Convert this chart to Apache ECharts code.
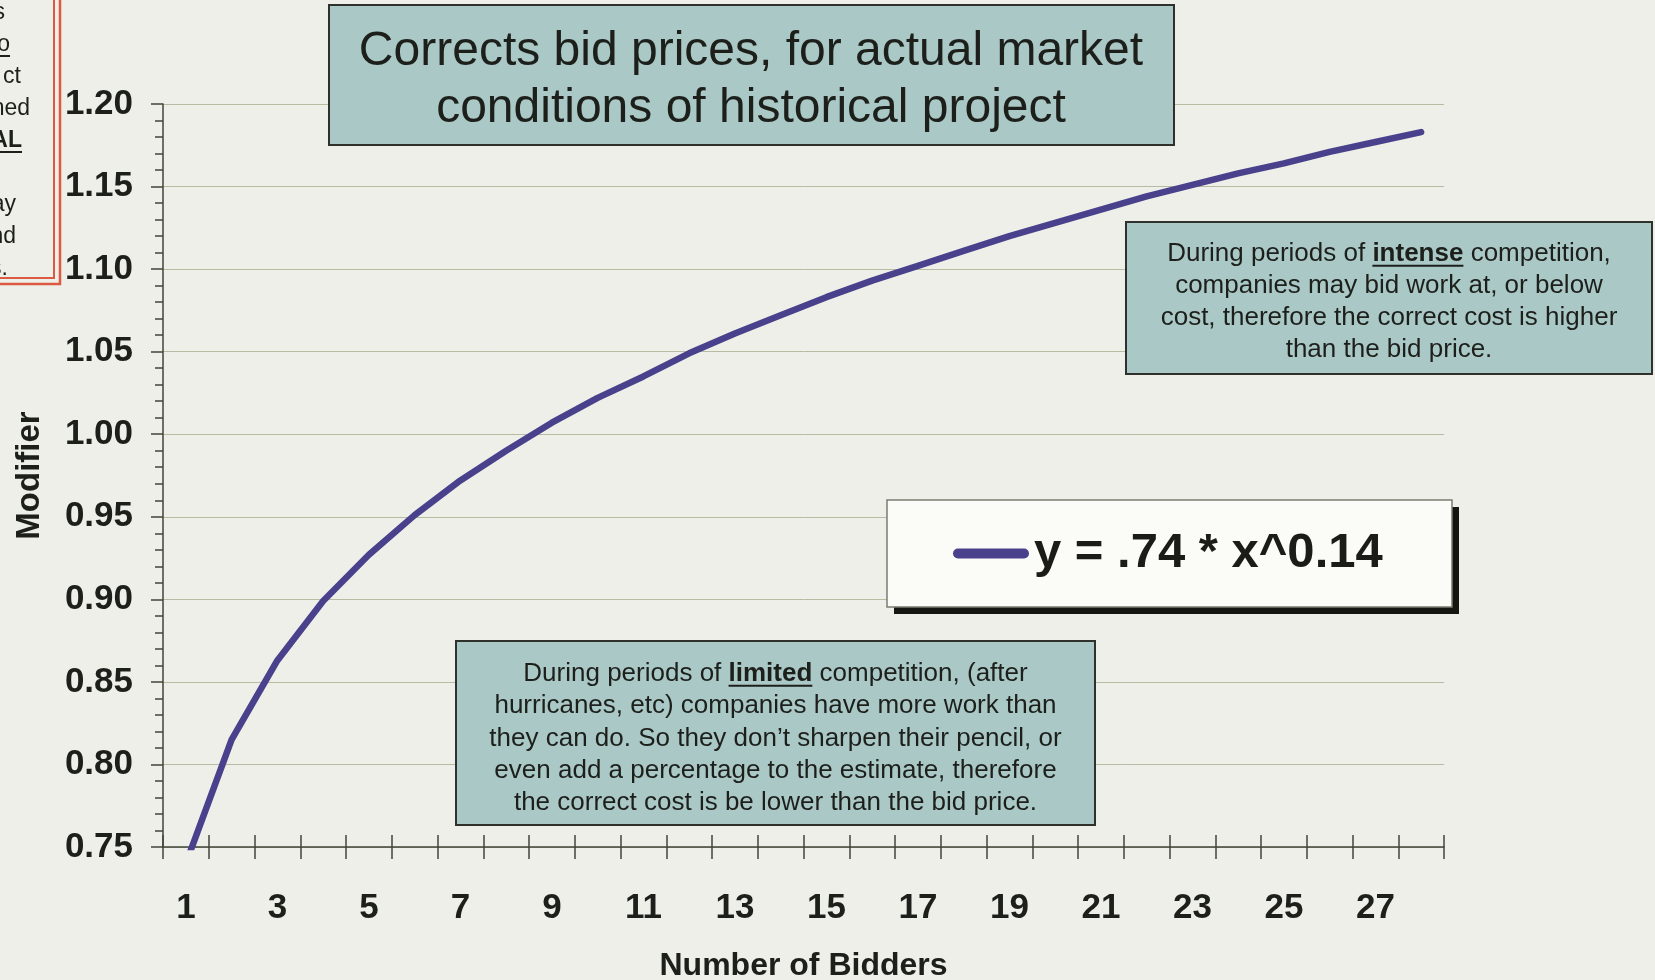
<!DOCTYPE html>
<html>
<head>
<meta charset="utf-8">
<title>Bid price modifier</title>
<script src="https://cdn.jsdelivr.net/npm/echarts@6/dist/echarts.min.js"></script>
<style>
  html, body { margin: 0; padding: 0; background: #eeefe8; }
  #chart { width: 1655px; height: 980px; }
</style>
</head>
<body>
<div id="chart"></div>
<script>
// number of bidders (x categories)
const bidders = ['1', '2', '3', '4', '5', '6', '7', '8', '9', '10', '11', '12', '13', '14',
  '15', '16', '17', '18', '19', '20', '21', '22', '23', '24', '25', '26', '27', '28'];
// modifier
const modifier = [0.740, 0.815, 0.863, 0.899, 0.927, 0.951, 0.972, 0.990, 1.007, 1.022,
  1.035, 1.049, 1.061, 1.072, 1.083, 1.093, 1.102, 1.111, 1.120, 1.128,
  1.136, 1.144, 1.151, 1.158, 1.164, 1.171, 1.177, 1.183];
// y axis ticks
const yMin = 0.75;
const yMax = 1.20;
const yStep = 0.05;

const seriesName = 'y = .74 * x^0.14';
const titleLines = ['Corrects bid prices, for actual market', 'conditions of historical project'];
const intenseLines = [
  ['During periods of ', 'intense', ' competition,'],
  ['companies may bid work at, or below'],
  ['cost, therefore the correct cost is higher'],
  ['than the bid price.']
];
const limitedLines = [
  ['During periods of ', 'limited', ' competition, (after'],
  ['hurricanes, etc) companies have more work than'],
  ['they can do. So they don\u2019t sharpen their pencil, or'],
  ['even add a percentage to the estimate, therefore'],
  ['the correct cost is be lower than the bid price.']
];
// what is left visible of the note cut off at the left edge
const leftNote = ['s', 'o', 'ct', 'ned', 'AL', '', 'ay', 'nd', 's.'];

const FONT = '"Liberation Sans", Arial, sans-serif';
const INK = '#1d1f1b';
const BOX = '#a9c8c6';

const measure = document.createElement('canvas').getContext('2d');
function textWidth(str, size, bold) {
  measure.font = (bold ? 'bold ' : '') + size + 'px ' + FONT;
  return measure.measureText(str).width;
}

// text box with centered lines, the middle piece of a 3-part line is bold + underlined
function noteBox(x, y, w, h, lines, size, lineH, firstCenter) {
  const cx = x + w / 2;
  const els = [{
    type: 'rect', z: 100,
    shape: { x: x, y: y, width: w, height: h },
    style: { fill: BOX, stroke: '#2f322c', lineWidth: 2 }
  }];
  const text = lines.map(function (l) {
    return l.length === 3 ? l[0] + '{u|' + l[1] + '}' + l[2] : l[0];
  }).join('\n');
  els.push({
    type: 'text', z: 101, x: cx, y: firstCenter - lineH / 2,
    style: {
      text: text, fill: INK, fontSize: size, fontFamily: FONT,
      align: 'center', verticalAlign: 'top', lineHeight: lineH,
      rich: { u: { fontSize: size, fontFamily: FONT, fontWeight: 'bold', fill: INK, lineHeight: lineH } }
    }
  });
  lines.forEach(function (l, i) {
    if (l.length !== 3) return;
    const a = textWidth(l[0], size, false);
    const b = textWidth(l[1], size, true);
    const c = textWidth(l[2], size, false);
    const left = cx - (a + b + c) / 2 + a;
    const uy = firstCenter + i * lineH + size * 0.45;
    els.push({
      type: 'line', z: 101,
      shape: { x1: left, y1: uy, x2: left + b, y2: uy },
      style: { stroke: INK, lineWidth: 2 }
    });
  });
  return els;
}

const graphics = [];

// red framed note at the left edge
graphics.push({
  type: 'rect', z: 90, shape: { x: -10, y: -10, width: 70, height: 294 },
  style: { fill: 'none', stroke: '#dc5a42', lineWidth: 2.5 }
});
graphics.push({
  type: 'rect', z: 90, shape: { x: -10, y: -10, width: 64, height: 288 },
  style: { fill: 'none', stroke: '#dc5a42', lineWidth: 2 }
});
const leftNoteRight = [5, 10, 21, 30, 22, 0, 16, 16, 8];
leftNote.forEach(function (s, i) {
  if (!s) return;
  const cy = 13 + i * 32;
  const bold = s === 'AL';
  graphics.push({
    type: 'text', z: 91, x: leftNoteRight[i], y: cy,
    style: { text: s, fill: INK, fontSize: 23, fontFamily: FONT, fontWeight: bold ? 'bold' : 'normal',
      align: 'right', verticalAlign: 'middle' }
  });
  if (bold || s === 'o') {
    graphics.push({
      type: 'line', z: 91,
      shape: { x1: 0, y1: cy + 11, x2: leftNoteRight[i], y2: cy + 11 },
      style: { stroke: INK, lineWidth: 2 }
    });
  }
});

// title box
graphics.push({
  type: 'rect', z: 100, shape: { x: 329, y: 5, width: 845, height: 140 },
  style: { fill: BOX, stroke: '#2f322c', lineWidth: 2 }
});
graphics.push({
  type: 'text', z: 101, x: 751, y: 23,
  style: { text: titleLines.join('\n'), fill: INK, fontSize: 48, fontFamily: FONT,
    align: 'center', verticalAlign: 'top', lineHeight: 57 }
});

noteBox(1126, 222, 526, 152, intenseLines, 26, 32, 254).forEach(function (e) { graphics.push(e); });
noteBox(456, 641, 639, 184, limitedLines, 26, 32.3, 674).forEach(function (e) { graphics.push(e); });

// legend frame with its hard shadow
graphics.push({
  type: 'rect', z: 104, shape: { x: 894, y: 507, width: 565, height: 107 },
  style: { fill: '#151512' }
});
graphics.push({
  type: 'rect', z: 105, shape: { x: 887, y: 500, width: 565, height: 107 },
  style: { fill: '#fbfbf7', stroke: '#7c7d70', lineWidth: 1.5 }
});

const chart = echarts.init(document.getElementById('chart'));

const axisColor = '#42453a';

const option = {
  animation: false,
  backgroundColor: '#eeefe8',
  grid: { left: 163, right: 211, top: 104, bottom: 133, containLabel: false, outerBoundsMode: 'none' },
  legend: {
    data: [seriesName],
    z: 120,
    left: 953, top: 529,
    padding: 0,
    itemWidth: 76, itemHeight: 10,
    icon: 'path://M5,0H71A5,5,0,0,1,71,10H5A5,5,0,0,1,5,0Z',
    itemStyle: { borderWidth: 0 },
    textStyle: { fontSize: 49, fontWeight: 'bold', color: '#1b1b18', fontFamily: FONT },
    selectedMode: false
  },
  xAxis: [{
    type: 'category',
    data: bidders,
    position: 'bottom',
    boundaryGap: true,
    name: 'Number of Bidders',
    nameLocation: 'middle',
    nameGap: 103,
    nameTextStyle: { fontSize: 32, fontWeight: 'bold', color: INK, fontFamily: FONT },
    axisLine: { lineStyle: { color: axisColor, width: 1.5 } },
    axisTick: { show: true, interval: 0, length: 12, inside: false, lineStyle: { color: axisColor, width: 1.5 } },
    axisLabel: { interval: 1, margin: 44, fontSize: 35, fontWeight: 'bold', color: INK, fontFamily: FONT },
    splitLine: { show: false }
  }, {
    // same axis again, only to draw the upper half of the crossing ticks
    type: 'category',
    data: bidders,
    position: 'bottom',
    boundaryGap: true,
    axisLine: { show: false },
    axisTick: { show: true, interval: 0, length: 12, inside: true, lineStyle: { color: axisColor, width: 1.5 } },
    axisLabel: { show: false },
    splitLine: { show: false }
  }],
  yAxis: {
    type: 'value',
    min: yMin, max: yMax, interval: yStep,
    name: 'Modifier',
    nameLocation: 'middle',
    nameGap: 117,
    nameTextStyle: { fontSize: 33, fontWeight: 'bold', color: INK, fontFamily: FONT },
    axisLine: { show: true, lineStyle: { color: axisColor, width: 1.5 } },
    axisTick: { show: true, length: 12, lineStyle: { color: axisColor, width: 1.5 } },
    minorTick: { show: true, splitNumber: 5, length: 8, lineStyle: { color: axisColor, width: 1.5 } },
    axisLabel: {
      margin: 30, fontSize: 35, fontWeight: 'bold', color: INK, fontFamily: FONT,
      formatter: function (v) { return v.toFixed(2); }
    },
    splitLine: { show: true, lineStyle: { color: '#b7bba2', width: 1 } }
  },
  series: [{
    name: seriesName,
    type: 'line',
    xAxisIndex: 0,
    data: modifier,
    symbol: 'none',
    showSymbol: false,
    clip: true,
    silent: true,
    itemStyle: { color: '#4a418d' },
    lineStyle: { color: '#4a418d', width: 6.5, cap: 'round', join: 'round' }
  }],
  graphic: graphics
};

chart.setOption(option);
window.addEventListener('resize', function () {
  chart.resize();
});
</script>
</body>
</html>
